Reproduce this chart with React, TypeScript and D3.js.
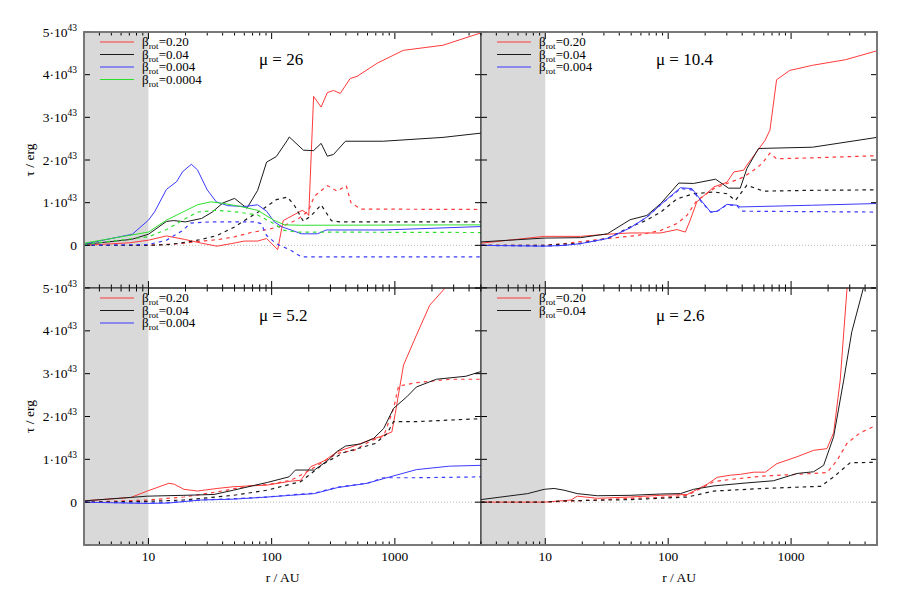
import React from "react";
import * as d3 from "d3";

type Pt = [number, number];

// ---- tick labels / categories ----
const xTickValues = [10, 100, 1000];
const yTickValues = [-1, 0, 1, 2, 3, 4, 5];
const yLabelValues = [0, 1, 2, 3, 4, 5];
const betaLabels = ["0.20", "0.04", "0.004", "0.0004"];
const muLabels = ["26", "10.4", "5.2", "2.6"];

// ---- mu = 26 ----
const mu26_b020_full: Pt[] = [[3,0],[7,0.06],[10,0.12],[14,0.22],[19.6,0.14],[27,0.05],[36,-0.02],[47,0.04],[60,0.1],[77,0.1],[91,0.16],[112,-0.1],[124,0.58],[177,0.82],[194,0.75],[200,0.7],[219,3.49],[252,3.24],[283,3.58],[318,3.63],[360,3.56],[434,3.91],[493,3.96],[720,4.27],[1170,4.57],[2460,4.69],[5000,4.98]];
const mu26_b020_dash: Pt[] = [[3,0],[10,0],[19.6,0.05],[27,0.1],[36,0.13],[50,0.2],[68,0.3],[92,0.37],[127,0.47],[161,0.6],[198,0.8],[222,1.15],[283,1.4],[340,1.27],[403,1.4],[440,1.0],[530,0.85],[5000,0.84]];
const mu26_b004_full: Pt[] = [[3,0.02],[7.3,0.14],[10,0.26],[14,0.56],[16,0.58],[20,0.55],[27,0.63],[33,0.78],[40,0.99],[50,1.1],[63,0.87],[77,1.29],[91,1.95],[109,2.08],[134,2.46],[139,2.54],[181,2.23],[219,2.22],[252,2.39],[283,2.09],[318,2.13],[397,2.44],[804,2.44],[2460,2.53],[5000,2.63]];
const mu26_b004_dash: Pt[] = [[3,0],[10,0],[15,0.02],[20,0.07],[27,0.14],[36,0.23],[50,0.43],[63,0.62],[82,0.82],[109,1.07],[134,1.13],[152,0.95],[181,0.56],[210,0.7],[252,0.95],[305,0.58],[355,0.55],[5000,0.55]];
const mu26_b0004_full: Pt[] = [[3,0.03],[7.4,0.26],[10,0.59],[11.2,0.78],[14,1.31],[16.9,1.49],[19,1.73],[22.3,1.9],[25,1.77],[30,1.3],[35.5,1.02],[44,0.93],[60,0.91],[77,0.95],[91,0.8],[105,0.55],[122,0.43],[147,0.35],[174,0.27],[235,0.27],[278,0.36],[815,0.36],[5000,0.44]];
const mu26_b0004_dash: Pt[] = [[3,0],[10,0.02],[14,0.12],[19,0.35],[22,0.52],[32,0.55],[73,0.55],[82,0.51],[91,0.23],[109,0.04],[144,-0.12],[174,-0.27],[5000,-0.27]];
const mu26_b00004_full: Pt[] = [[3,0.05],[10,0.31],[14,0.59],[19,0.78],[25,0.95],[32,1.02],[41,0.98],[56,0.91],[77,0.82],[104,0.59],[127,0.48],[174,0.47],[5000,0.48]];
const mu26_b00004_dash: Pt[] = [[3,0.02],[10,0.2],[14,0.37],[19,0.59],[25,0.78],[36,0.82],[53,0.78],[77,0.71],[104,0.51],[127,0.35],[161,0.31],[235,0.31],[5000,0.3]];

// ---- mu = 10.4 ----
const mu104_b020_full: Pt[] = [[3,0.05],[9.8,0.21],[19.4,0.21],[32,0.26],[49,0.29],[87,0.29],[118,0.37],[138,0.31],[151,0.59],[171,1.02],[236,1.37],[301,1.48],[342,1.72],[411,1.76],[437,1.88],[614,2.46],[673,2.7],[762,3.88],[976,4.1],[1497,4.22],[2771,4.35],[5000,4.56]];
const mu104_b020_dash: Pt[] = [[3,0],[9.8,0],[14.2,0.04],[32,0.16],[56,0.23],[87,0.35],[118,0.51],[142,0.7],[171,1.05],[236,1.33],[301,1.45],[411,1.6],[495,1.76],[578,1.91],[673,2.16],[762,2.03],[1497,2.05],[5000,2.1]];
const mu104_b004_full: Pt[] = [[3,0.08],[9.8,0.17],[19.4,0.18],[32,0.27],[49,0.6],[67,0.7],[87,0.98],[122,1.46],[161,1.45],[243,1.55],[310,1.34],[386,1.34],[437,1.8],[543,2.27],[1497,2.3],[5000,2.53]];
const mu104_b004_dash: Pt[] = [[3,0],[9.8,0],[19.4,0.05],[32,0.16],[49,0.43],[67,0.59],[87,0.78],[118,1.09],[161,1.21],[236,1.25],[301,1.21],[352,1.05],[437,1.41],[596,1.27],[1497,1.29],[5000,1.3]];
const mu104_b0004_full: Pt[] = [[3,0],[9.8,-0.02],[14.2,0],[19.4,0.04],[32,0.16],[49,0.41],[67,0.66],[89,0.98],[126,1.35],[156,1.33],[189,1.02],[222,0.78],[251,0.8],[301,0.96],[363,0.94],[386,0.9],[1497,0.94],[5000,0.98]];
const mu104_b0004_dash: Pt[] = [[3,0],[9.8,-0.02],[14.2,0],[19.4,0.04],[32,0.16],[49,0.41],[67,0.66],[89,0.98],[126,1.33],[156,1.3],[189,1.0],[222,0.78],[251,0.8],[301,0.95],[363,0.93],[398,0.8],[5000,0.78]];

// ---- mu = 5.2 ----
const mu52_b020_full: Pt[] = [[3,0.03],[7.2,0.11],[9.8,0.26],[14.6,0.44],[16.2,0.42],[19.4,0.3],[25,0.26],[36,0.32],[49,0.36],[92,0.4],[143,0.49],[172,0.51],[208,0.83],[265,0.96],[342,1.18],[466,1.31],[636,1.46],[762,1.53],[946,1.64],[1007,2.07],[1175,3.2],[1497,3.9],[1919,4.6],[2539,4.99],[3200,5.3],[5000,5.6]];
const mu52_b020_dash: Pt[] = [[3,0],[9.8,0.05],[19.4,0.12],[36,0.24],[67,0.38],[98,0.42],[143,0.51],[183,0.67],[236,0.86],[342,1.14],[466,1.21],[636,1.43],[811,1.54],[976,2.19],[1071,2.71],[1497,2.79],[2771,2.87],[5000,2.87]];
const mu52_b004_full: Pt[] = [[3,0.03],[9.8,0.14],[19.4,0.16],[34,0.18],[49,0.28],[92,0.46],[138,0.59],[156,0.75],[222,0.75],[282,0.96],[342,1.19],[398,1.31],[528,1.36],[673,1.49],[811,1.72],[976,2.19],[1250,2.46],[1497,2.69],[2174,2.87],[3774,2.94],[5000,3.05]];
const mu52_b004_dash: Pt[] = [[3,0],[9.8,0.02],[19.4,0.05],[49,0.16],[92,0.28],[172,0.48],[265,0.9],[386,1.16],[694,1.37],[863,1.6],[976,1.88],[1497,1.88],[5000,1.95]];
const mu52_b0004_full: Pt[] = [[3,0],[9.8,-0.03],[14.6,-0.02],[26.5,0.05],[49,0.07],[92,0.12],[143,0.16],[222,0.2],[342,0.34],[595,0.44],[811,0.55],[1497,0.76],[2771,0.84],[5000,0.86]];
const mu52_b0004_dash: Pt[] = [[3,0],[9.8,-0.02],[14.6,-0.01],[26.5,0.05],[49,0.08],[92,0.12],[143,0.17],[222,0.21],[342,0.35],[595,0.44],[811,0.57],[1497,0.57],[5000,0.59]];

// ---- mu = 2.6 ----
const mu26b_b020_full: Pt[] = [[3,0],[9.8,0],[16.2,0.05],[18.2,0.14],[26.5,0.09],[49,0.12],[87,0.16],[143,0.18],[162,0.26],[208,0.42],[251,0.58],[321,0.63],[387,0.65],[498,0.7],[617,0.7],[767,0.9],[1118,1.06],[1525,1.21],[1957,1.25],[2220,1.62],[2510,2.85],[2845,4.95],[3100,5.6]];
const mu26b_b020_dash: Pt[] = [[3,0],[9.8,0],[18.2,0.03],[49,0.09],[87,0.11],[143,0.16],[236,0.48],[321,0.53],[596,0.61],[1118,0.65],[1957,0.69],[2370,0.98],[2845,1.37],[3650,1.62],[5000,1.8]];
const mu26b_b004_full: Pt[] = [[3,0.06],[7.2,0.2],[9.8,0.3],[11.8,0.32],[14.2,0.28],[18.2,0.2],[26.5,0.15],[49,0.16],[87,0.19],[126,0.2],[161,0.3],[236,0.38],[437,0.45],[719,0.5],[1118,0.67],[1525,0.71],[1840,0.86],[2220,1.53],[2680,2.85],[3120,3.98],[3900,5.03],[4500,5.6]];
const mu26b_b004_dash: Pt[] = [[3,0],[9.8,0],[14.2,0.03],[49,0.06],[143,0.12],[236,0.26],[596,0.32],[1740,0.37],[2220,0.59],[3020,0.92],[5000,0.93]];

const seriesColors = ["#ff3a3a", "#1a1a1a", "#3a3aff", "#2ee02e"];

type Series = { full: Pt[]; dash: Pt[] };
type Panel = { mu: string; series: Series[]; col: number; row: number };

const panels: Panel[] = [
  { mu: muLabels[0], col: 0, row: 0, series: [
    { full: mu26_b020_full, dash: mu26_b020_dash },
    { full: mu26_b004_full, dash: mu26_b004_dash },
    { full: mu26_b0004_full, dash: mu26_b0004_dash },
    { full: mu26_b00004_full, dash: mu26_b00004_dash },
  ] },
  { mu: muLabels[1], col: 1, row: 0, series: [
    { full: mu104_b020_full, dash: mu104_b020_dash },
    { full: mu104_b004_full, dash: mu104_b004_dash },
    { full: mu104_b0004_full, dash: mu104_b0004_dash },
  ] },
  { mu: muLabels[2], col: 0, row: 1, series: [
    { full: mu52_b020_full, dash: mu52_b020_dash },
    { full: mu52_b004_full, dash: mu52_b004_dash },
    { full: mu52_b0004_full, dash: mu52_b0004_dash },
  ] },
  { mu: muLabels[3], col: 1, row: 1, series: [
    { full: mu26b_b020_full, dash: mu26b_b020_dash },
    { full: mu26b_b004_full, dash: mu26b_b004_dash },
  ] },
];

const W = 915, H = 593;
const colX = [84, 481, 877];
const rowY = [32, 288, 545];
const FONT = "'Liberation Serif', 'DejaVu Serif', serif";

const minorTicks: number[] = [];
[1, 10, 100, 1000].forEach((d) => {
  for (let k = 1; k <= 9; k++) {
    const v = d * k;
    if (v >= 3 && v <= 5000 && !xTickValues.includes(v)) minorTicks.push(v);
  }
});

function PanelView({ p }: { p: Panel }) {
  const x0 = colX[p.col], x1 = colX[p.col + 1];
  const y0 = rowY[p.row], y1 = rowY[p.row + 1];
  const x = d3.scaleLog().domain([3, 5000]).range([x0, x1]);
  const y = d3.scaleLinear().domain([-1, 5]).range([y1, y0]);
  const line = d3.line<Pt>().x((d) => x(d[0])).y((d) => y(d[1]));
  const clipId = `clip-${p.col}-${p.row}`;
  const lx = x0 + 16;
  return (
    <g>
      <defs>
        <clipPath id={clipId}>
          <rect x={x0} y={y0} width={x1 - x0} height={y1 - y0} />
        </clipPath>
      </defs>
      <rect x={x(3)} y={y0} width={x(10) - x(3)} height={y1 - y0} fill="#d9d9d9" />
      <line x1={x0} x2={x1} y1={y(0)} y2={y(0)} stroke="#aaa" strokeWidth={0.8} strokeDasharray="1 2" />
      <g clipPath={`url(#${clipId})`}>
        {p.series.map((s, i) => (
          <g key={i}>
            <path d={line(s.dash) || ""} fill="none" stroke={seriesColors[i]} strokeWidth={1.2} strokeDasharray="3.5 4" />
            <path d={line(s.full) || ""} fill="none" stroke={seriesColors[i]} strokeWidth={1} />
          </g>
        ))}
      </g>
      {yTickValues.map((v) => (
        <g key={"yt" + v}>
          <line x1={x0} x2={x0 + 6} y1={y(v)} y2={y(v)} stroke="#000" />
          <line x1={x1} x2={x1 - 6} y1={y(v)} y2={y(v)} stroke="#000" />
        </g>
      ))}
      {xTickValues.map((v) => (
        <g key={"xt" + v}>
          <line x1={x(v)} x2={x(v)} y1={y0} y2={y0 + 7} stroke="#000" />
          <line x1={x(v)} x2={x(v)} y1={y1} y2={y1 - 7} stroke="#000" />
        </g>
      ))}
      {minorTicks.map((v) => (
        <g key={"mt" + v}>
          <line x1={x(v)} x2={x(v)} y1={y0} y2={y0 + 3.5} stroke="#000" />
          <line x1={x(v)} x2={x(v)} y1={y1} y2={y1 - 3.5} stroke="#000" />
        </g>
      ))}
      <rect x={x0} y={y0} width={x1 - x0} height={y1 - y0} fill="none" stroke="#222" strokeWidth={1} />
      {p.series.map((_, i) => {
        const ly = y0 + 10 + i * 12.5;
        return (
          <g key={"lg" + i}>
            <line x1={lx} x2={lx + 34} y1={ly} y2={ly} stroke={seriesColors[i]} strokeWidth={1} />
            <text x={lx + 42} y={ly + 4} fontFamily={FONT} fontSize={13} fill="#000">
              β<tspan fontSize={9} dy={3}>rot</tspan><tspan dy={-3}>={betaLabels[i]}</tspan>
            </text>
          </g>
        );
      })}
      <text x={x0 + 175} y={y0 + 33} fontFamily={FONT} fontSize={17} fill="#000">μ = {p.mu}</text>
      {p.col === 0 && yLabelValues.map((v) => (
        <text key={"yl" + v} x={x0 - 7} y={y(v) + 4.5} textAnchor="end" fontFamily={FONT} fontSize={13.5} fill="#000">
          {v === 0 ? "0" : <>{v}·10<tspan fontSize={9.5} dy={-6}>43</tspan></>}
        </text>
      ))}
      {p.col === 0 && (
        <text transform={`translate(${34},${(y0 + y1) / 2}) rotate(-90)`} textAnchor="middle" fontFamily={FONT} fontSize={13.5} fill="#000">τ / erg</text>
      )}
      {p.row === 1 && xTickValues.map((v) => (
        <text key={"xl" + v} x={x(v)} y={y1 + 16} textAnchor="middle" fontFamily={FONT} fontSize={13.5} fill="#000">{v}</text>
      ))}
      {p.row === 1 && (
        <text x={(x0 + x1) / 2} y={y1 + 37} textAnchor="middle" fontFamily={FONT} fontSize={13.5} fill="#000">r / AU</text>
      )}
    </g>
  );
}

export default function App() {
  return (
    <svg width={W} height={H} style={{ position: "absolute", left: 0, top: 0, background: "#fff" }}>
      <rect width={W} height={H} fill="#fff" />
      {panels.map((p, i) => <PanelView key={i} p={p} />)}
      <rect x={colX[0]} y={rowY[0]} width={colX[2] - colX[0]} height={rowY[2] - rowY[0]} fill="none" stroke="#777" strokeWidth={1.8} />
    </svg>
  );
}
